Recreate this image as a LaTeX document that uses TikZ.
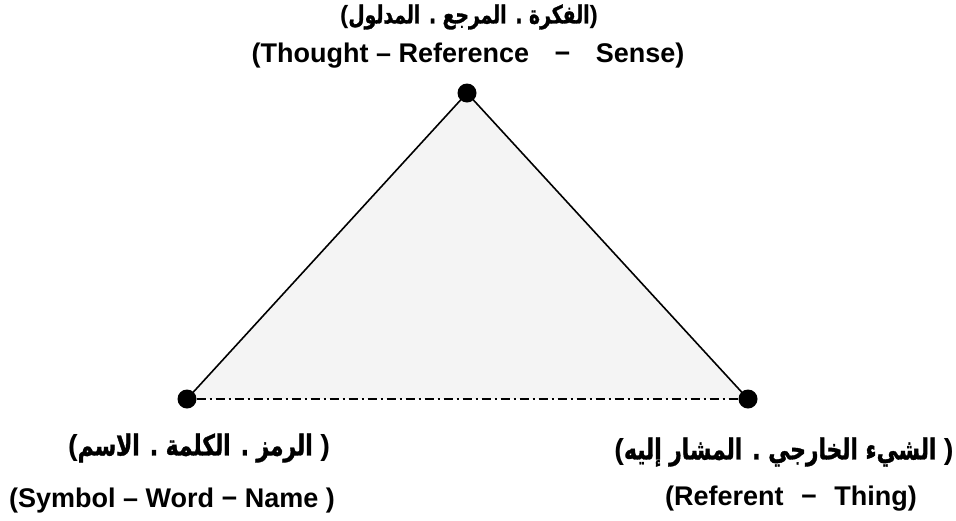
\documentclass[tikz,border=0pt]{standalone}
\usepackage{fontspec}
\setmainfont{Liberation Sans}
\newfontfamily\arabicfont[Script=Arabic, FakeStretch=0.75, BoldFeatures={FakeBold=1.2}]{DejaVu Sans}
\TeXXeTstate=1
\usetikzlibrary{backgrounds}
\definecolor{paper}{HTML}{F4F4F4}
\newcommand{\lp}{{\rmfamily(}}
\newcommand{\rp}{{\rmfamily)}}

\begin{document}
\begin{tikzpicture}[x=1pt, y=-1pt,
  every node/.style={font=\bfseries\fontsize{27}{32}\selectfont, inner sep=0pt},
  dot/.style={circle, fill=black, minimum size=19pt},
  ar/.style={font=\arabicfont\bfseries\fontsize{25}{30}\selectfont},
  arbig/.style={font=\arabicfont\bfseries\fontsize{29}{34}\selectfont},
  side/.style={line width=1.6pt},
  base/.style={line width=1.4pt, dash pattern=on 9pt off 4pt on 2pt off 4pt}]

\useasboundingbox (0,0) rectangle (956,520);

\node[dot] (thought) at (467,93) {};
\node[dot] (symbol) at (187,399) {};
\node[dot] (referent) at (748,399) {};

\node[ar] (thoughtar) at (469,17) {\lp\beginR الفكرة . المرجع . المدلول\endR\rp};
\node (thoughten) at (468,56) {(Thought – Reference\hspace{18pt} −\hspace{18pt} Sense)};
\node[arbig] (symbolar) at (199,448) {\lp\beginR الرمز . الكلمة . الاسم\endR\ \rp};
\node (symbolen) at (172,501) {(Symbol – Word − Name )};
\node[arbig] (referentar) at (784,452) {\lp\beginR الشيء الخارجي . المشار إليه\endR\ \rp};
\node (referenten) at (791,499) {(Referent\hspace{10pt} −\hspace{10pt} Thing)};

\begin{scope}[on background layer]
\fill[paper] (symbol.center) -- (thought.center) -- (referent.center) -- cycle;
\draw[side] (symbol.center) -- (thought.center) -- (referent.center);
\draw[base] (symbol) -- (referent);
\end{scope}
\end{tikzpicture}
\end{document}
